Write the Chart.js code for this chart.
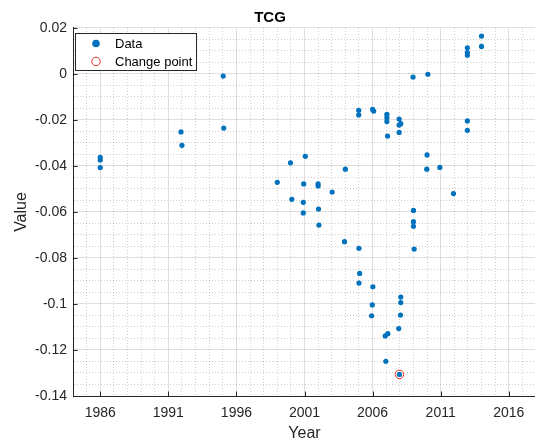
<!DOCTYPE html>
<html>
<head>
<meta charset="utf-8">
<script src="https://cdn.jsdelivr.net/npm/chart.js@4/dist/chart.umd.min.js"></script>
<style>
  html, body { margin: 0; padding: 0; overflow: hidden; background: #fff; }
  canvas { display: block; }
</style>
</head>
<body>
<canvas id="c" width="545" height="443"></canvas>
<script>
// Observation year and value for each TCG sample
const years = [
  1986.0, 1986.0, 1986.0,
  1991.93, 1992.0,
  1995.03, 1995.07,
  1999.0, 1999.97, 2000.07,
  2001.06, 2000.94, 2000.91, 2000.91,
  2002.0, 2002.0, 2002.03, 2002.06,
  2003.03, 2004.0, 2003.94,
  2004.98, 2004.98, 2005.0, 2005.05, 2005.0,
  2006.0, 2006.08, 2006.02, 2005.98, 2005.93,
  2007.05, 2007.05, 2007.05, 2007.1, 2007.12, 2006.93, 2006.97,
  2007.95, 2008.07, 2007.95, 2007.95, 2008.07, 2008.07, 2008.05, 2007.92, 2007.97,
  2008.97, 2009.0, 2009.0, 2009.0, 2009.05,
  2010.06, 2010.0, 2009.98,
  2010.94, 2011.94,
  2012.96, 2012.96, 2012.96, 2012.96, 2012.96,
  2014.0, 2014.0
];
const values = [
  -0.0362, -0.0374, -0.0407,
  -0.0252, -0.0310,
  -0.0009, -0.0235,
  -0.0471, -0.0386, -0.0545,
  -0.0358, -0.0478, -0.0558, -0.0604,
  -0.0478, -0.0487, -0.0587, -0.0657,
  -0.0513, -0.0414, -0.0729,
  -0.0158, -0.0178, -0.0758, -0.0867, -0.0909,
  -0.0154, -0.0161, -0.0925, -0.1004, -0.1051,
  -0.0175, -0.0190, -0.0207, -0.0270, -0.1129, -0.1139, -0.1249,
  -0.0196, -0.0216, -0.0222, -0.0254, -0.0970, -0.0994, -0.1048, -0.1107, -0.1306,
  -0.0013, -0.0593, -0.0642, -0.0662, -0.0761,
  -0.0001, -0.0352, -0.0414,
  -0.0406, -0.0520,
  0.0114, 0.0093, 0.0082, -0.0204, -0.0245,
  0.0165, 0.0120
];

// Detected change point
const changeYears = [2007.97];
const changeValues = [-0.1306];

// Axis limits and labelled ticks
const xLimits = [1984, 2018];
const yLimits = [-0.14, 0.02];
const xMajorTicks = [1986, 1991, 1996, 2001, 2006, 2011, 2016];
const yMajorTicks = [0.02, 0, -0.02, -0.04, -0.06, -0.08, -0.1, -0.12, -0.14];

const AXIS_COLOR = '#262626';
const FONT = '"Liberation Sans", Arial, Helvetica, sans-serif';

const isMajorX = v => xMajorTicks.some(t => Math.abs(t - v) < 1e-6);
const isMajorY = v => yMajorTicks.some(t => Math.abs(t - v) < 1e-6);

// Minor grid every year / every 0.005
const xGridValues = [];
for (let y = xLimits[0]; y <= xLimits[1]; y++) xGridValues.push(y);
const yGridValues = [];
for (let k = Math.round(yLimits[0] / 0.005); k <= Math.round(yLimits[1] / 0.005); k++) {
  yGridValues.push(Number((k * 0.005).toFixed(3)));
}

// Axis ticks drawn inward, as in MATLAB style axes
const insideTicks = {
  id: 'insideTicks',
  beforeDatasetsDraw(chart) {
    const { ctx, chartArea, scales } = chart;
    ctx.save();
    ctx.strokeStyle = AXIS_COLOR;
    ctx.lineWidth = 1;
    ctx.beginPath();
    xMajorTicks.forEach(v => {
      const px = Math.round(scales.x.getPixelForValue(v)) + 0.5;
      ctx.moveTo(px, chartArea.bottom);
      ctx.lineTo(px, chartArea.bottom - 4.5);
    });
    yMajorTicks.forEach(v => {
      const py = Math.round(scales.y.getPixelForValue(v)) + 0.5;
      ctx.moveTo(chartArea.left, py);
      ctx.lineTo(chartArea.left + 4.5, py);
    });
    ctx.stroke();
    ctx.restore();
  }
};

// Legend box placed in the upper-left corner of the plot
const insideLegend = {
  id: 'insideLegend',
  afterDraw(chart) {
    const { ctx, chartArea } = chart;
    const items = chart.data.datasets;
    ctx.save();
    ctx.font = '13px ' + FONT;
    const textW = Math.max(...items.map(d => ctx.measureText(d.label).width));
    const x0 = Math.round(chartArea.left) + 2;
    const y0 = Math.round(chartArea.top) + 5;
    const w = Math.round(40 + textW + 4);
    const h = 37;
    ctx.fillStyle = '#fff';
    ctx.fillRect(x0, y0, w, h);
    ctx.strokeStyle = AXIS_COLOR;
    ctx.lineWidth = 1;
    ctx.strokeRect(x0 + 0.5, y0 + 0.5, w, h);
    items.forEach((d, i) => {
      const cx = x0 + 21;
      const cy = y0 + 10.5 + i * 18;
      ctx.beginPath();
      if (d.legendFilled) {
        ctx.arc(cx, cy, 3.8, 0, Math.PI * 2);
        ctx.fillStyle = d.backgroundColor;
        ctx.fill();
      } else {
        ctx.arc(cx, cy, 4.2, 0, Math.PI * 2);
        ctx.strokeStyle = d.borderColor;
        ctx.lineWidth = 1;
        ctx.stroke();
      }
      ctx.fillStyle = '#000';
      ctx.textBaseline = 'middle';
      ctx.textAlign = 'left';
      ctx.fillText(d.label, x0 + 40, cy + 0.5);
    });
    ctx.restore();
  }
};

const dataPoints = years.map((x, i) => ({ x, y: values[i] }));
const changePoints = changeYears.map((x, i) => ({ x, y: changeValues[i] }));

new Chart(document.getElementById('c'), {
  type: 'scatter',
  data: {
    datasets: [
      {
        label: 'Data',
        data: dataPoints,
        backgroundColor: '#0072BD',
        borderWidth: 0,
        pointRadius: 2.6,
        legendFilled: true
      },
      {
        label: 'Change point',
        data: changePoints,
        backgroundColor: 'rgba(0,0,0,0)',
        borderColor: '#e8302a',
        borderWidth: 1,
        pointRadius: 4.3,
        legendFilled: false
      }
    ]
  },
  options: {
    responsive: false,
    animation: false,
    events: [],
    layout: { padding: { left: 0, right: 5, top: 0, bottom: 0 } },
    plugins: {
      legend: { display: false },
      tooltip: { enabled: false },
      title: {
        display: true,
        text: 'TCG',
        color: '#000',
        font: { family: FONT, size: 15, weight: 'bold', lineHeight: 1.3333 },
        padding: { top: 8, bottom: 0 }
      }
    },
    scales: {
      x: {
        type: 'linear',
        min: xLimits[0],
        max: xLimits[1],
        afterBuildTicks: s => { s.ticks = xGridValues.map(v => ({ value: v })); },
        afterFit: s => { s.height = 47; },
        ticks: {
          autoSkip: false,
          maxRotation: 0,
          padding: 9,
          color: AXIS_COLOR,
          font: { family: FONT, size: 14 },
          callback: v => (isMajorX(v) ? String(v) : '')
        },
        grid: {
          drawTicks: false,
          lineWidth: 1,
          color: c => (c.tick && isMajorX(c.tick.value)) ? 'rgba(38,38,38,0.15)' : 'rgba(38,38,38,0.22)'
        },
        border: {
          display: true,
          color: AXIS_COLOR,
          width: 1,
          dash: c => (c.tick && !isMajorX(c.tick.value)) ? [1, 2] : []
        },
        title: {
          display: true,
          text: 'Year',
          color: AXIS_COLOR,
          font: { family: FONT, size: 16 },
          padding: { top: 0, bottom: 0 }
        }
      },
      y: {
        type: 'linear',
        min: yLimits[0],
        max: yLimits[1],
        afterBuildTicks: s => { s.ticks = yGridValues.map(v => ({ value: v })); },
        afterFit: s => { s.width = 73; },
        ticks: {
          autoSkip: false,
          padding: 6,
          color: AXIS_COLOR,
          font: { family: FONT, size: 14 },
          callback: v => (isMajorY(v) ? String(Number(v.toFixed(3))) : '')
        },
        grid: {
          drawTicks: false,
          lineWidth: 1,
          color: c => (c.tick && isMajorY(c.tick.value)) ? 'rgba(38,38,38,0.15)' : 'rgba(38,38,38,0.22)'
        },
        border: {
          display: true,
          color: AXIS_COLOR,
          width: 1,
          dash: c => (c.tick && !isMajorY(c.tick.value)) ? [1, 2] : []
        },
        title: {
          display: true,
          text: 'Value',
          color: AXIS_COLOR,
          font: { family: FONT, size: 16 },
          padding: { top: 12, bottom: 0 }
        }
      }
    }
  },
  plugins: [insideTicks, insideLegend]
});
</script>
</body>
</html>
